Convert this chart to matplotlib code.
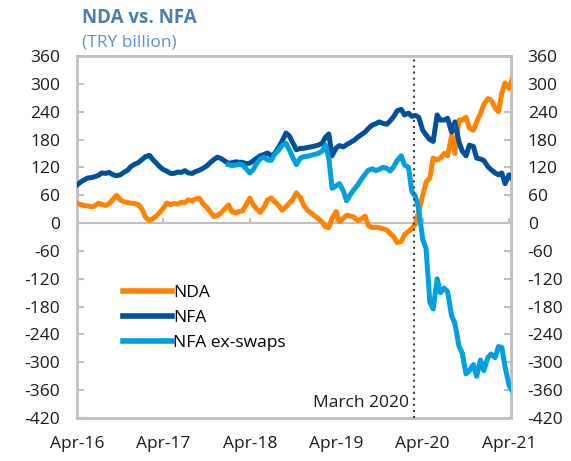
import matplotlib.pyplot as plt
import matplotlib.dates as mdates
import pandas as pd
import numpy as np

plt.rcParams['font.family'] = ['Open Sans', 'DejaVu Sans']
plt.rcParams['axes.unicode_minus'] = False

# semi-monthly observations, Apr-2016 .. Apr-2021
dates = pd.date_range('2016-04-01', periods=122, freq='SMS')

nda = [43, 40, 38, 37, 35, 37, 43, 40, 38, 42,
       52, 60, 50, 46, 44, 43, 42, 40, 30, 13,
       5, 9, 15, 22, 32, 43, 40, 42, 41, 45,
       44, 50, 48, 52, 53, 42, 34, 25, 14, 16,
       22, 30, 39, 25, 22, 25, 26, 38, 54, 40,
       30, 23, 35, 50, 54, 46, 38, 28, 35, 43,
       52, 65, 55, 38, 28, 22, 15, 10, 2, -8,
       -10, 10, 25, 3, 10, 17, 15, 13, 5, 8,
       15, -5, -10, -9, -10, -12, -15, -22, -30, -42,
       -40, -25, -18, -12, -2, 25, 60, 88, 97, 140,
       136, 140, 150, 145, 188, 150, 222, 222, 228, 205,
       200, 218, 236, 255, 268, 265, 248, 240, 280, 302,
       290, 312]

nfa = [82, 88, 93, 97, 98, 100, 103, 108, 107, 109,
       104, 102, 104, 109, 114, 122, 127, 130, 137, 143,
       146, 137, 130, 122, 115, 112, 107, 107, 110, 109,
       113, 108, 107, 111, 114, 118, 123, 130, 137, 142,
       139, 134, 129, 130, 132, 131, 131, 128, 129, 134,
       140, 145, 148, 151, 145, 150, 163, 176, 194, 188,
       172, 158, 161, 161, 163, 164, 166, 168, 172, 185,
       192, 145, 162, 167, 164, 169, 174, 178, 185, 190,
       196, 204, 211, 214, 218, 215, 213, 220, 230, 242,
       245, 233, 237, 230, 232, 228, 200, 190, 180, 176,
       233, 222, 222, 226, 196, 218, 175, 155, 145, 168,
       165, 140, 138, 135, 122, 115, 108, 104, 108, 85,
       104, 95]

nfa_ex_swaps = [np.nan] * 42 + [
       126, 124, 125, 127, 125, 118, 108, 115,
       129, 138, 142, 136, 135, 148, 157, 167, 172, 158,
       140, 126, 140, 143, 144, 146, 148, 150, 155, 168,
       140, 75, 80, 85, 70, 48, 62, 72, 82, 93,
       105, 114, 117, 113, 116, 120, 118, 112, 122, 135,
       145, 125, 120, 68, 58, 30, -35, -55, -170, -185,
       -120, -150, -140, -148, -200, -216, -265, -280, -325, -318,
       -305, -330, -295, -318, -290, -282, -290, -266, -268, -310,
       -350, -362]

march_2020 = pd.Timestamp('2020-02-25')
year_ticks = pd.date_range('2016-04-01', periods=6, freq='12MS')
y_ticks = list(range(-420, 361, 60))

c_nda = '#FF8200'
c_nfa = '#00509A'
c_ex = '#009FDF'
grey = '#BFBFBF'

fig = plt.figure(figsize=(5.71, 4.61), dpi=100)
ax = fig.add_axes([0.1349, 0.0933, 0.760, 0.7852])

ax.axhline(0, color=grey, lw=1.5, zorder=1)
ax.vlines(year_ticks, 0, 11, color=grey, lw=1.5, zorder=1)

ax.plot(dates, nda, color=c_nda, lw=3.6, label='NDA', zorder=3)
ax.plot(dates, nfa, color=c_nfa, lw=3.6, label='NFA', zorder=3)
ax.plot(dates, nfa_ex_swaps, color=c_ex, lw=3.6, label='NFA ex-swaps', zorder=4)

ax.axvline(march_2020, color='#404040', lw=1.5, ls=(0, (1, 1.9)), zorder=5)
ax.text(pd.Timestamp('2020-02-05'), -388, 'March 2020', ha='right', va='center',
        fontsize=12.5, color='#1a1a1a')

ax.set_xlim(pd.Timestamp('2016-04-01'), pd.Timestamp('2021-04-09'))
ax.set_ylim(-420, 360)
ax.set_yticks(y_ticks)
ax.set_xticks(year_ticks)
ax.xaxis.set_major_formatter(mdates.DateFormatter('%b-%y'))

ax.tick_params(axis='y', direction='in', length=5, width=1.5, color=grey,
               left=True, right=True, labelleft=True, labelright=True,
               labelsize=12.5, labelcolor='#1a1a1a', pad=12)
ax.tick_params(axis='x', length=0, labelsize=12.5, labelcolor='#1a1a1a', pad=13)

for s in ax.spines.values():
    s.set_color(grey)
    s.set_linewidth(2)

leg = ax.legend(loc='upper left', bbox_to_anchor=(0.07, 0.41), frameon=False,
                fontsize=12.5, handlelength=2.8, handletextpad=0.1, labelspacing=0.5)
for line in leg.get_lines():
    line.set_linewidth(4)

fig.text(0.143, 0.962, 'NDA vs. NFA', fontsize=13.5, fontweight='bold',
         color='#4A7EB0', va='center')
fig.text(0.143, 0.908, '(TRY billion)', fontsize=12.5, color='#5B93C7', va='center')

fig.savefig('out.png', dpi=100)
